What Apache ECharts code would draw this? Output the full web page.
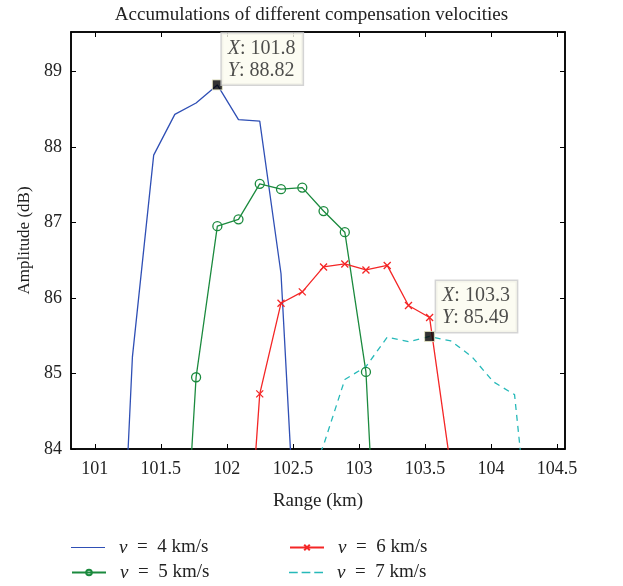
<!DOCTYPE html>
<html>
<head>
<meta charset="utf-8">
<script src="https://cdn.jsdelivr.net/npm/echarts@6/dist/echarts.min.js"></script>
<style>
  html, body { margin: 0; padding: 0; background: #fff; }
  #chart { width: 623px; height: 586px; }
</style>
</head>
<body>
<div id="chart"></div>
<script>
// range samples (km), shared by all curves
const rangeKm = [101.124, 101.285, 101.446, 101.606, 101.767, 101.928, 102.088, 102.249, 102.41, 102.571,
  102.732, 102.893, 103.053, 103.214, 103.375, 103.535, 103.696, 103.856, 104.017, 104.178, 104.339];

// amplitude (dB); null = no sample there
const amp4 = [79.2, 85.22, 87.89, 88.43, 88.58, 88.82, 88.36, 88.34, 86.32, 81.07,
  null, null, null, null, null, null, null, null, null, null, null];
const amp5 = [null, null, null, 80.25, 84.95, 86.95, 87.04, 87.51, 87.44, 87.46,
  87.15, 86.87, 85.02, 79.53, null, null, null, null, null, null, null];
const amp6 = [null, null, null, null, null, null, 80.7, 84.73, 85.93, 86.08,
  86.41, 86.45, 86.37, 86.43, 85.9, 85.74, 83.74, null, null, null, null];
const amp7 = [null, null, null, null, null, null, null, null, null, 83.42,
  84.05, 84.92, 85.09, 85.48, 85.42, 85.49, 85.43, 85.22, 84.89, 84.72, 81.99];

const seriesNames = ["ν = 4 km/s", "ν = 5 km/s", "ν = 6 km/s", "ν = 7 km/s"];
const xTicks = [101, 101.5, 102, 102.5, 103, 103.5, 104, 104.5];

// data tips: which curve, which sample, and the text shown
const tipSeries = [0, 3];
const tipIndex = [5, 15];
const tipText = [["101.8", "88.82"], ["103.3", "85.49"]];

const FONT = "Liberation Serif";
const allAmp = [amp4, amp5, amp6, amp7];
const colors = ["#2f4fb5", "#1b8a3e", "#f42626", "#26b9b9"];

function pairs(arr) {
  let out = [];
  arr.forEach(function (v, i) {
    if (v !== null) out.push([rangeKm[i], v]);
  });
  return out;
}

let chart = echarts.init(document.getElementById("chart"));

const xMin = 100.82, xMax = 104.56, yMin = 84, yMax = 89.52;

let tipData = tipSeries.map(function (s, k) {
  return {
    value: [rangeKm[tipIndex[k]], allAmp[s][tipIndex[k]]],
    label: {
      position: k === 0 ? [10, -46] : [12, -50],
      formatter: "{i|X}: " + tipText[k][0] + "\n{i|Y}: " + tipText[k][1]
    }
  };
});

// one legend per entry: two columns, two rows
const legendPos = [[71, 538], [71, 563], [289, 538], [289, 563]];
const legendIcon = [
  "path://M0,0L40,0L40,1.3L0,1.3Z",
  null,
  null,
  "path://M0,0h9v1.3h-9zM13,0h9v1.3h-9zM26,0h9v1.3h-9z"
];
let legends = seriesNames.map(function (n, i) {
  let item = { name: n };
  if (legendIcon[i]) item.icon = legendIcon[i];
  return {
    data: [item],
    left: legendPos[i][0], top: legendPos[i][1], padding: 0,
    itemWidth: 34, itemHeight: 7,
    formatter: function (s) { return s.replace("ν", "{i|ν}").replace(/ = /, "\u2002=\u2002"); },
    textStyle: {
      fontFamily: FONT, fontSize: 19, color: "#222", padding: [0, 0, 0, 9],
      rich: { i: { fontFamily: FONT, fontSize: 19, fontStyle: "italic", color: "#222" } }
    }
  };
});

chart.setOption({
  animation: false,
  title: {
    text: "Accumulations of different compensation velocities",
    left: "center",
    top: 1,
    textStyle: { fontFamily: FONT, fontSize: 19, fontWeight: "normal", color: "#222" }
  },
  grid: {
    left: 71, right: 58, top: 32, bottom: 137,
    show: true, borderColor: "#000", borderWidth: 1.5, backgroundColor: "#fff"
  },
  legend: legends,
  xAxis: [
    {
      type: "value", min: xMin, max: xMax,
      name: "Range (km)", nameLocation: "middle", nameGap: 43,
      nameTextStyle: { fontFamily: FONT, fontSize: 19, color: "#222" },
      axisLine: { show: true, lineStyle: { color: "#000", width: 1.5 } },
      axisTick: { show: true, inside: true, length: 5, customValues: xTicks, lineStyle: { color: "#000" } },
      axisLabel: {
        customValues: xTicks, margin: 11,
        fontFamily: FONT, fontSize: 18, color: "#222",
        formatter: function (v) { return String(v); }
      },
      splitLine: { show: false }
    },
    {
      type: "value", min: xMin, max: xMax, position: "top",
      axisLine: { show: true, lineStyle: { color: "#000", width: 1.5 } },
      axisTick: { show: true, inside: true, length: 5, customValues: xTicks, lineStyle: { color: "#000" } },
      axisLabel: { show: false },
      splitLine: { show: false }
    }
  ],
  yAxis: [
    {
      type: "value", min: yMin, max: yMax, interval: 1,
      name: "Amplitude (dB)", nameLocation: "middle", nameGap: 38,
      nameTextStyle: { fontFamily: FONT, fontSize: 17, color: "#222" },
      axisLine: { show: true, lineStyle: { color: "#000", width: 1.5 } },
      axisTick: { show: true, inside: true, length: 5, lineStyle: { color: "#000" } },
      axisLabel: { margin: 9, fontFamily: FONT, fontSize: 18, color: "#222", showMaxLabel: false },
      splitLine: { show: false }
    },
    {
      type: "value", min: yMin, max: yMax, interval: 1, position: "right",
      axisLine: { show: true, lineStyle: { color: "#000", width: 1.5 } },
      axisTick: { show: true, inside: true, length: 5, lineStyle: { color: "#000" } },
      axisLabel: { show: false },
      splitLine: { show: false }
    }
  ],
  series: [
    {
      name: seriesNames[0], type: "line", data: pairs(amp4), clip: true,
      symbol: "none",
      lineStyle: { color: colors[0], width: 1.3 },
      itemStyle: { color: colors[0] }
    },
    {
      name: seriesNames[1], type: "line", data: pairs(amp5), clip: true,
      symbol: "circle", symbolSize: 9, showAllSymbol: true,
      lineStyle: { color: colors[1], width: 1.3 },
      itemStyle: { color: "rgba(0,0,0,0)", borderColor: colors[1], borderWidth: 1.3 }
    },
    {
      name: seriesNames[2], type: "line", data: pairs(amp6), clip: true,
      symbol: "path://M0,0L10,10M10,0L0,10", symbolSize: 7, showAllSymbol: true,
      lineStyle: { color: colors[2], width: 1.3 },
      itemStyle: { color: "rgba(0,0,0,0)", borderColor: colors[2], borderWidth: 1.3 }
    },
    {
      name: seriesNames[3], type: "line", data: pairs(amp7), clip: true,
      symbol: "none",
      lineStyle: { color: colors[3], width: 1.3, type: [6, 5] },
      itemStyle: { color: colors[3] }
    },
    {
      name: "datatip", type: "scatter", data: tipData, z: 10,
      symbol: "rect", symbolSize: 10,
      itemStyle: { color: "#000", borderColor: "#eeeec8", borderWidth: 1 },
      label: {
        show: true, align: "left", verticalAlign: "top",
        fontFamily: FONT, fontSize: 20, color: "#222", lineHeight: 22,
        backgroundColor: "#fbfbef", borderColor: "#c9c9c9", borderWidth: 1.5,
        padding: [4, 7, 3, 6],
        rich: { i: { fontFamily: FONT, fontSize: 20, fontStyle: "italic", color: "#222", lineHeight: 22 } }
      }
    }
  ]
});

window.addEventListener("resize", () => {
  chart.resize();
});
</script>
</body>
</html>
